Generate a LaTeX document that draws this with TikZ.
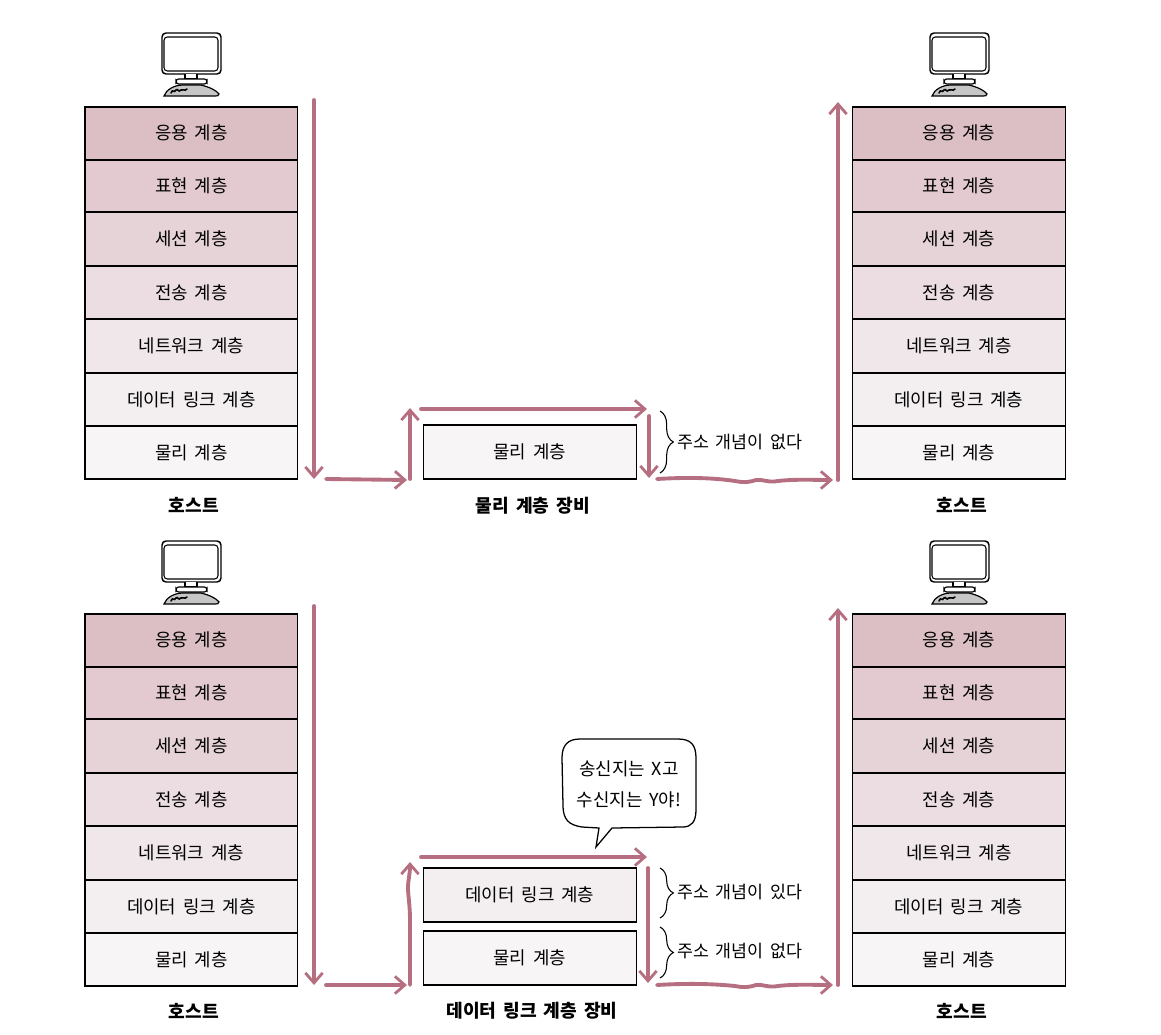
\documentclass[tikz,border=0pt]{standalone}
\usepackage{fontspec}
\setmainfont{Noto Sans CJK KR}[WordSpace=1.7]
\usetikzlibrary{arrows.meta,decorations.pathreplacing}
\definecolor{arrowrose}{HTML}{B56F80}
\definecolor{layA}{HTML}{DBBFC4}
\definecolor{layB}{HTML}{E2CAD0}
\definecolor{layC}{HTML}{E6D3D8}
\definecolor{layD}{HTML}{EBDDE1}
\definecolor{layE}{HTML}{F0E7EA}
\definecolor{layF}{HTML}{F3EEF0}
\definecolor{layG}{HTML}{F8F5F6}
\definecolor{kbgray}{HTML}{C6C6C6}
\tikzset{
  x=0.75pt,y=-0.75pt,
  layerbox/.style={draw=black,line width=0.85pt,minimum width=159.5pt,anchor=north west,outer sep=0pt,inner sep=0pt,font=\fontsize{13.4}{15}\selectfont},
  flow/.style={draw=arrowrose,line width=2.9pt,line cap=round,line join=round,-{Straight Barb[length=7.5pt,width=13pt,line width=2.1pt]}},
  capt/.style={font=\fontsize{13.6}{15}\selectfont\bfseries,inner sep=0pt},
  note/.style={font=\fontsize{13}{15}\selectfont,anchor=west,inner sep=0pt},
  bracemark/.style={draw=black,line width=0.8pt,decorate,decoration={brace,amplitude=10pt,aspect=0.5}},
  bubbletext/.style={font=\fontsize{13.4}{23.5}\selectfont,align=center,inner sep=0pt},
  monitor/.pic={
    \draw[line width=1.1pt,rounded corners=3pt,fill=white] (-29,0) rectangle (30,41);
    \draw[line width=0.8pt,rounded corners=2.5pt] (-27,4) rectangle (27,38);
    \draw[line width=0.9pt,fill=white] (-6,41) -- (-6,46) -- (6,46) -- (6,41);
    \draw[line width=0.9pt,fill=white,rounded corners=2pt] (-15,46) rectangle (16,51);
    \draw[line width=0.9pt,fill=kbgray] (-27,63) .. controls (-25,57) and (-17,52) .. (-8,52) -- (10,52) .. controls (18,54) and (25,57) .. (28,61) .. controls (28,63) and (26,63) .. (24,63) -- cycle;
    \draw[line width=1.2pt,line cap=round] (-20,60) .. controls (-18,55) and (-17,61) .. (-15,57) .. controls (-13,55) and (-13,60) .. (-10,57) .. controls (-8,55) and (-7,59) .. (-4,56);
  }
}
\newcommand{\layerstack}[3]{%
  \node[layerbox,fill=layA,minimum height=39.75pt] (#1a) at (#2,#3) {\raisebox{1.5pt}{응용 계층}};
  \node[layerbox,fill=layB,minimum height=39pt]    (#1b) at (#2,#3+53) {\raisebox{-1pt}{표현 계층}};
  \node[layerbox,fill=layC,minimum height=40.5pt]  (#1c) at (#2,#3+105) {\raisebox{-1pt}{세션 계층}};
  \node[layerbox,fill=layD,minimum height=39.75pt] (#1d) at (#2,#3+159) {전송 계층};
  \node[layerbox,fill=layE,minimum height=40.5pt]  (#1e) at (#2,#3+212) {네트워크 계층};
  \node[layerbox,fill=layF,minimum height=39.75pt] (#1f) at (#2,#3+266) {데이터 링크 계층};
  \node[layerbox,fill=layG,minimum height=39.75pt] (#1g) at (#2,#3+319) {물리 계층};
}
\begin{document}
\begin{tikzpicture}
\useasboundingbox (0,0) rectangle (1161,1035);
% monitors
\pic at (191,33) {monitor};
\pic at (959,33) {monitor};
\pic at (191,541) {monitor};
\pic at (959,541) {monitor};
% stacks
\layerstack{tl}{85}{107}
\layerstack{tr}{852.5}{107}
\layerstack{bl}{85}{614}
\layerstack{br}{852.5}{614}
% device boxes
\node[layerbox,fill=layG,minimum height=40.5pt] (tmid) at (423.5,425) {물리 계층};
\node[layerbox,fill=layF,minimum height=40.5pt] (bmidd) at (423.5,868) {데이터 링크 계층};
\node[layerbox,fill=layG,minimum height=40.5pt] (bmidp) at (423.5,931) {물리 계층};
% captions
\node[capt] (c1) at (194,505) {호스트};
\node[capt] (c2) at (533,506) {물리 계층 장비};
\node[capt] (c3) at (962,505) {호스트};
\node[capt] (c4) at (194,1011) {호스트};
\node[capt] (c5) at (532,1011) {데이터 링크 계층 장비};
\node[capt] (c6) at (962,1011) {호스트};
% notes
\node[note] (n1) at (677,442) {주소 개념이 없다};
\node[note] (n2) at (677,892) {주소 개념이 있다};
\node[note] (n3) at (677,951) {주소 개념이 없다};
% braces
\coordinate (b1a) at (660,411); \coordinate (b1b) at (660,473);
\coordinate (b2a) at (660,868); \coordinate (b2b) at (660,918);
\coordinate (b3a) at (660,927); \coordinate (b3b) at (660,978);
\draw[bracemark] (b1a) -- (b1b);
\draw[bracemark] (b2a) -- (b2b);
\draw[bracemark] (b3a) -- (b3b);
% top flow
\coordinate (ta1) at (314,100);  \coordinate (ta2) at (314,479);
\coordinate (tb1) at (326,479);  \coordinate (tb2) at (407,480);
\coordinate (tc1) at (410,479);  \coordinate (tc2) at (410,408);
\coordinate (td1) at (421,409);  \coordinate (td2) at (647,409);
\coordinate (te1) at (649,416);  \coordinate (te2) at (649,478);
\coordinate (tf1) at (657,479);  \coordinate (tf2) at (833,480);
\coordinate (tg1) at (838,480);  \coordinate (tg2) at (838,102);
\draw[flow] (ta1) -- (ta2);
\draw[flow] (tb1) -- (tb2);
\draw[flow] (tc1) -- (tc2);
\draw[flow] (td1) -- (td2);
\draw[flow] (te1) -- (te2);
\draw[flow] (tf1) .. controls (690,477) and (715,478) .. (735,481) .. controls (745,483) and (750,482) .. (756,480) .. controls (763,479) and (768,483) .. (778,481) .. controls (795,479) and (815,480) .. (tf2);
\draw[flow] (tg1) -- (tg2);
% bottom flow
\coordinate (ba1) at (314,606);  \coordinate (ba2) at (314,985);
\coordinate (bb1) at (326,985);  \coordinate (bb2) at (407,985);
\coordinate (bc1) at (410,985);  \coordinate (bc2) at (410,862);
\coordinate (bd1) at (421,857);  \coordinate (bd2) at (647,857);
\coordinate (be1) at (648,868);  \coordinate (be2) at (648,983);
\coordinate (bf1) at (657,985);  \coordinate (bf2) at (833,985);
\coordinate (bg1) at (838,985);  \coordinate (bg2) at (838,608);
\draw[flow] (ba1) -- (ba2);
\draw[flow] (bb1) -- (bb2);
\draw[flow] (bc1) -- (410,920) .. controls (410,905) and (408,895) .. (408,888) .. controls (408,880) and (410,875) .. (bc2);
\draw[flow] (bd1) -- (bd2);
\draw[flow] (be1) -- (be2);
\draw[flow] (bf1) .. controls (690,983) and (715,984) .. (735,986) .. controls (745,988) and (750,987) .. (756,985) .. controls (763,984) and (768,988) .. (778,986) .. controls (795,984) and (815,985) .. (bf2);
\draw[flow] (bg1) -- (bg2);
% bubble
\draw[line width=0.95pt,fill=white]
  (580,739) -- (678,739) .. controls (691,739) and (696,745) .. (696,758) -- (696,810)
  .. controls (696,822) and (691,827) .. (683,827) -- (612,828) -- (596,847) -- (599,828)
  -- (582,827) .. controls (569,825) and (563,820) .. (563,805) -- (562,758) .. controls (562,745) and (568,739) .. (580,739) -- cycle;
\node[bubbletext] (bub) at (629,784) {송신지는 X고\\수신지는 Y야!};
\end{tikzpicture}
\end{document}
